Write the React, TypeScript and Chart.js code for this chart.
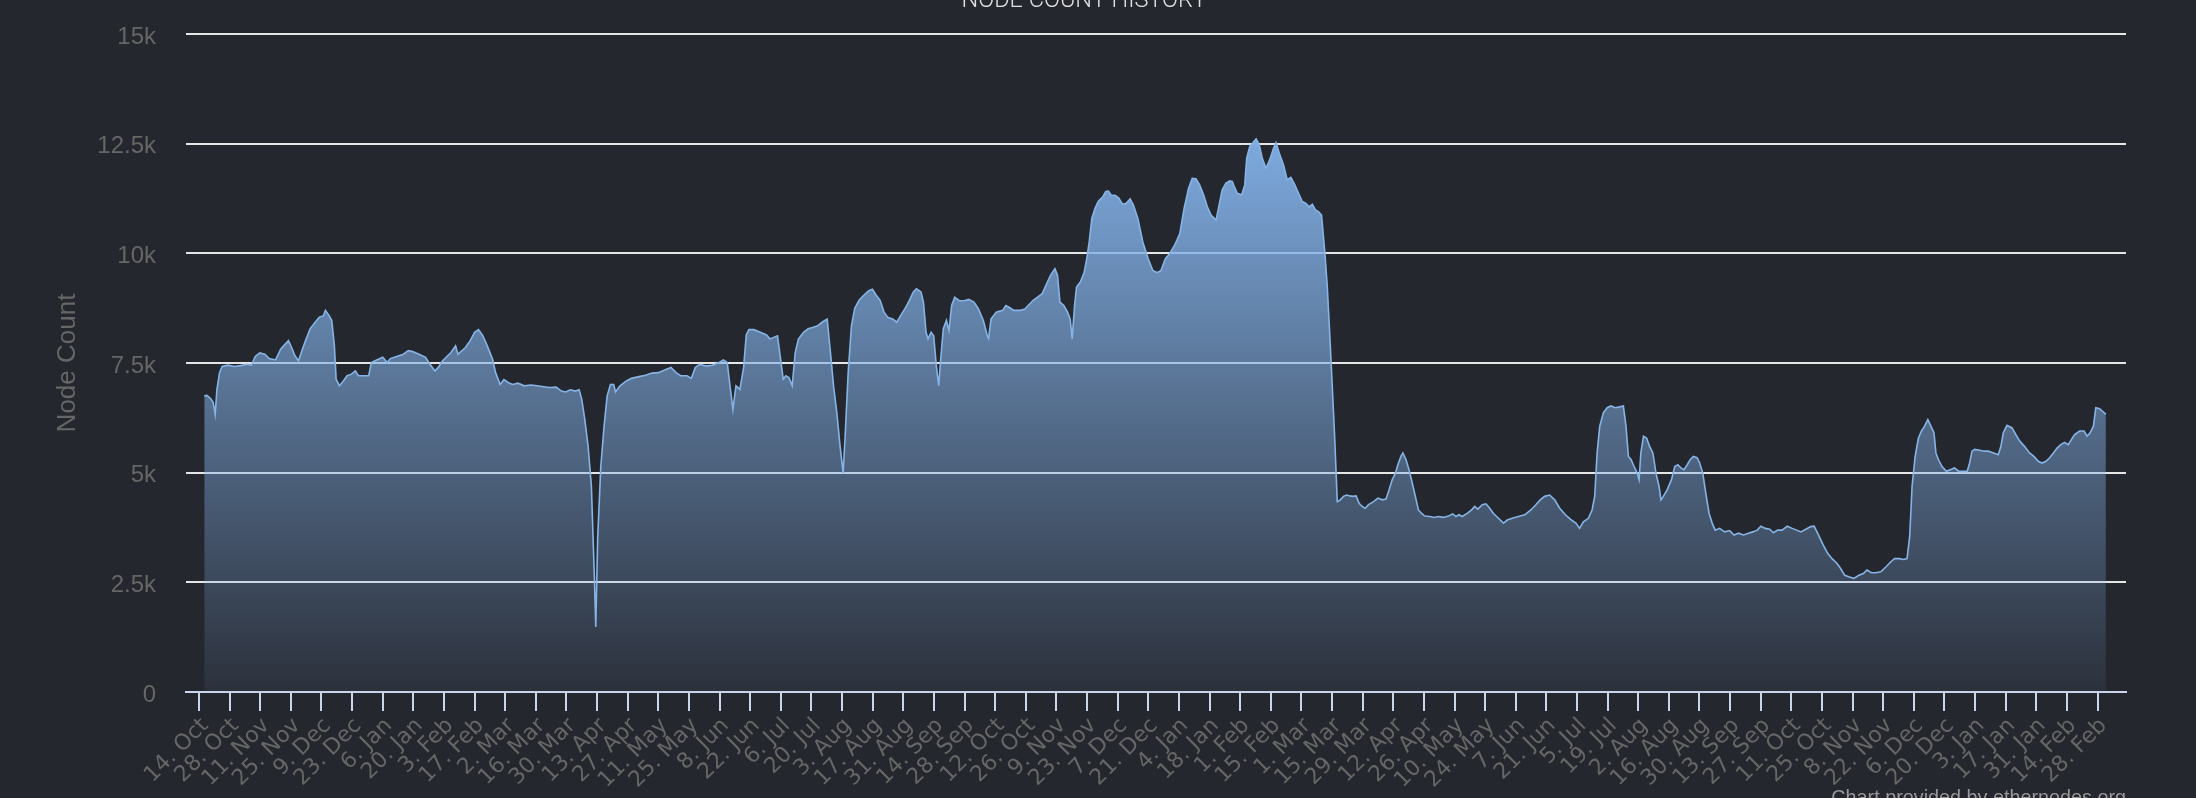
import React, { useEffect, useRef } from "react";
import { Chart, registerables } from "chart.js";

Chart.register(...registerables);

// ---- data -------------------------------------------------------------
// x values are days since 14 Oct 2019 (day 0); y values are node counts.
const START_DATE_UTC = Date.UTC(2019, 9, 14);
const MONTHS = ["Jan", "Feb", "Mar", "Apr", "May", "Jun", "Jul", "Aug", "Sep", "Oct", "Nov", "Dec"];
const TICK_STEP_DAYS = 14;
const TICK_COUNT = 63;
const X_MIN_DAY = -5.94;
const X_MAX_DAY = 881;
const Y_MAX = 15000;
const Y_STEP = 2500;
const TITLE = "NODE COUNT HISTORY";
const Y_TITLE = "Node Count";
const CREDITS = "Chart provided by ethernodes.org";

// Oct 2019 - Jun 2020
const daysA = [
  2.4, 3.6, 5.3, 6.5, 7.4, 8.2, 9.4, 10.6, 13.2, 16.1,
  19.0, 21.9, 24.0, 25.7, 27.8, 30.1, 32.1, 35.0, 37.4, 39.4,
  40.9, 42.3, 43.8, 45.5, 47.3, 49.0, 50.8, 53.1, 54.9, 56.9,
  57.8, 59.5, 60.7, 61.9, 62.7, 64.2, 66.0, 67.7, 69.5, 71.5,
  72.9, 75.9, 77.6, 78.8, 80.5, 82.3, 84.0, 86.1, 87.5, 90.4,
  93.4, 95.7, 97.7, 100.6, 103.6, 105.6, 107.9, 109.4, 111.4, 113.8,
  115.2, 117.3, 118.4, 120.2, 121.9, 124.0, 126.0, 127.8, 129.8, 131.8,
  134.2, 135.6, 137.7, 139.4, 141.5, 143.5, 145.8, 148.7, 151.7, 154.6,
  157.5, 160.4, 163.3, 165.7, 167.7, 169.7, 172.1, 173.8, 175.0, 176.4,
  177.9, 179.4, 180.8, 181.4, 182.3, 183.7, 185.2, 186.6, 188.1, 189.6,
  190.4, 192.5, 195.4, 197.7, 201.2, 204.1, 207.1, 210.0, 212.9, 215.8,
  218.1, 220.2, 223.1, 225.1, 226.9, 228.9, 231.8, 234.7, 237.7, 239.7,
  241.5, 242.6, 244.1, 245.5, 247.3, 249.0,
];
const countsA = [
  6750, 6760, 6690, 6600, 6330, 6900, 7280, 7420, 7450, 7420,
  7440, 7470, 7450, 7650, 7730, 7700, 7600, 7570, 7820, 7930,
  8010, 7860, 7670, 7550, 7820, 8050, 8280, 8430, 8540, 8580,
  8700, 8580, 8470, 7890, 7130, 6980, 7090, 7210, 7240, 7320,
  7210, 7210, 7210, 7510, 7550, 7590, 7630, 7510, 7600, 7650,
  7700, 7780, 7760, 7700, 7630, 7470, 7320, 7400, 7550, 7670,
  7740, 7890, 7700, 7780, 7860, 8010, 8200, 8260, 8120, 7890,
  7590, 7280, 7010, 7120, 7050, 7010, 7040, 6980, 7000, 6980,
  6960, 6940, 6950, 6860, 6840, 6890, 6860, 6890, 6670, 6210,
  5600, 4690, 2550, 1480, 3540, 5140, 6060, 6750, 7010, 7010,
  6840, 6980, 7090, 7150, 7190, 7220, 7270, 7280, 7340, 7400,
  7280, 7210, 7210, 7150, 7400, 7470, 7430, 7450, 7510, 7570,
  7510, 7050, 6440, 6980, 6900, 7400,
];

// Jun 2020 - Mar 2021
const daysB = [
  250.2, 251.4, 253.7, 256.6, 259.5, 261.0, 263.0, 264.5, 265.9, 267.1,
  268.3, 269.7, 271.2, 272.6, 274.1, 276.4, 278.5, 280.5, 282.9, 285.2,
  287.2, 288.7, 290.1, 291.6, 293.1, 294.5, 295.4, 296.8, 298.3, 299.8,
  301.8, 303.8, 306.2, 307.9, 309.7, 311.4, 313.2, 314.9, 317.3, 319.0,
  320.8, 323.1, 325.1, 326.6, 328.0, 330.1, 331.2, 332.4, 333.3, 334.7,
  335.9, 337.1, 338.2, 339.1, 340.3, 341.7, 342.9, 344.1, 345.5, 347.6,
  349.9, 351.9, 354.3, 356.3, 358.6, 360.4, 361.0, 362.1, 364.5, 367.4,
  368.9, 370.3, 372.6, 375.6, 377.6, 379.1, 381.4, 383.4, 385.5, 387.2,
  389.3, 391.3, 392.5, 393.6, 395.4, 397.1, 398.3, 399.2, 400.3, 401.2,
  403.0, 404.7, 405.9, 407.0, 408.2, 409.7, 411.1, 413.2, 414.6, 415.8,
  417.0, 419.0, 420.5, 422.2, 423.9, 425.7, 427.2, 429.2, 431.5, 433.9,
  436.1, 438.1, 439.8, 441.8, 443.8, 446.1, 448.4, 450.4, 452.4, 454.1,
  455.8, 457.5, 459.3, 461.0, 462.7, 465.0, 466.1, 467.8, 469.5, 471.3,
  472.4, 473.3, 474.7, 476.7, 478.1, 479.0, 480.4, 481.8, 483.3, 484.7,
  486.1, 487.8, 489.5, 491.3, 492.4, 494.1, 495.8, 497.5, 499.2, 501.0,
  502.7, 504.4, 506.1, 507.5, 509.0, 510.4, 511.8, 513.2, 514.7, 515.8,
  517.0, 518.1, 519.2,
];
const countsB = [
  8140, 8260, 8260, 8200, 8140, 8050, 8090, 8120, 7590, 7130,
  7210, 7170, 6980, 7740, 8050, 8200, 8280, 8310, 8350, 8440,
  8500, 7740, 6980, 6370, 5600, 4990, 5830, 7280, 8350, 8750,
  8930, 9040, 9150, 9180, 9040, 8930, 8660, 8540, 8500, 8430,
  8580, 8770, 8960, 9120, 9190, 9120, 8890, 8200, 8050, 8200,
  8120, 7430, 6980, 7590, 8280, 8470, 8240, 8810, 9000, 8920,
  8920, 8950, 8890, 8740, 8470, 8120, 8060, 8500, 8660, 8700,
  8810, 8770, 8700, 8700, 8730, 8810, 8930, 9000, 9080, 9270,
  9500, 9650, 9500, 8890, 8810, 8660, 8500, 8050, 8810, 9230,
  9350, 9570, 9880, 10260, 10800, 11030, 11180, 11290, 11410, 11420,
  11330, 11320, 11260, 11120, 11140, 11240, 11100, 10800, 10260, 9880,
  9610, 9560, 9610, 9880, 9990, 10190, 10450, 11030, 11480, 11710,
  11700, 11560, 11330, 11060, 10870, 10760, 11030, 11450, 11600, 11650,
  11640, 11520, 11370, 11330, 11560, 12170, 12440, 12520, 12610, 12480,
  12170, 11940, 12130, 12400, 12520, 12250, 12020, 11680, 11730, 11560,
  11370, 11180, 11140, 11060, 11120, 10990, 10950, 10870, 10030, 9270,
  8120, 6980, 5830,
];

// Mar 2021 - Mar 2022
const daysC = [
  520.4, 521.8, 523.2, 524.7, 526.1, 527.5, 529.0, 530.4, 531.8, 533.2,
  534.7, 537.0, 539.0, 541.0, 542.7, 544.1, 545.5, 547.0, 548.1, 549.5,
  550.4, 551.8, 553.2, 554.7, 556.1, 557.5, 559.0, 560.4, 562.7, 564.7,
  566.7, 569.0, 571.2, 573.2, 574.7, 576.1, 577.5, 579.8, 581.8, 583.2,
  584.7, 586.7, 588.4, 590.1, 591.8, 594.1, 596.4, 598.1, 600.4, 603.2,
  606.1, 608.9, 611.2, 613.2, 615.2, 617.5, 619.8, 622.1, 624.7, 627.5,
  629.5, 631.2, 632.9, 635.2, 636.9, 638.1, 639.2, 640.4, 642.1, 643.8,
  645.5, 647.5, 649.5, 651.2, 652.4, 653.5, 654.7, 656.1, 657.5, 658.4,
  659.2, 660.4, 661.8, 663.2, 664.7, 666.1, 667.5, 668.4, 669.5, 671.2,
  673.2, 674.7, 676.1, 677.5, 678.9, 680.4, 681.8, 683.2, 684.9, 686.1,
  687.5, 688.9, 690.4, 691.8, 693.2, 695.2, 697.5, 699.8, 701.8, 703.8,
  706.1, 708.4, 710.4, 712.4, 714.1, 716.1, 718.1, 719.8, 721.8, 723.8,
  726.1, 728.4, 730.4, 732.4, 734.6, 736.9, 738.4, 740.4, 742.6, 744.6,
  746.6, 748.9, 750.6, 752.4, 754.6, 756.6, 758.9, 760.9, 762.6, 764.6,
  766.6, 768.9, 771.2, 773.5, 775.2, 777.5, 779.2, 780.9, 782.1, 783.2,
  784.6, 786.1, 787.5, 788.9, 790.4, 791.8, 793.2, 794.1, 795.2, 796.9,
  798.9, 800.9, 802.6, 804.6, 806.6, 808.4, 809.5, 810.6, 811.8, 814.1,
  816.1, 818.1, 820.4, 822.6, 823.8, 824.9, 826.6, 828.9, 830.6, 832.4,
  834.6, 836.9, 838.9, 840.9, 842.6, 844.4, 846.1, 847.8, 849.5, 851.2,
  852.9, 854.6, 856.1, 857.5, 859.8, 861.8, 863.2, 864.6, 866.1, 867.2,
  868.9, 870.3, 871.8,
];
const countsC = [
  4340, 4380, 4460, 4490, 4470, 4460, 4470, 4300, 4230, 4190,
  4270, 4340, 4420, 4380, 4400, 4610, 4840, 4990, 5180, 5370,
  5450, 5300, 5070, 4760, 4460, 4150, 4070, 4010, 4000, 3980,
  4000, 3980, 4010, 4060, 4000, 4040, 4000, 4070, 4150, 4230,
  4170, 4270, 4290, 4190, 4070, 3960, 3850, 3920, 3960, 4000,
  4040, 4150, 4270, 4380, 4460, 4490, 4380, 4190, 4040, 3920,
  3850, 3730, 3880, 3960, 4150, 4460, 5450, 6060, 6370, 6480,
  6520, 6480, 6500, 6520, 6060, 5370, 5300, 5140, 4990, 4840,
  5450, 5830, 5790, 5600, 5450, 4990, 4690, 4380, 4460, 4610,
  4840, 5140, 5180, 5110, 5070, 5180, 5300, 5370, 5340, 5220,
  4990, 4530, 4070, 3850, 3690, 3730, 3650, 3680, 3580, 3620,
  3580, 3620, 3650, 3690, 3780, 3730, 3710, 3630, 3690, 3690,
  3780, 3730, 3690, 3650, 3710, 3770, 3780, 3580, 3350, 3160,
  3040, 2930, 2810, 2660, 2620, 2590, 2660, 2700, 2780, 2720,
  2720, 2740, 2850, 2970, 3040, 3040, 3020, 3040, 3540, 4690,
  5370, 5790, 5950, 6060, 6210, 6060, 5910, 5450, 5300, 5140,
  5030, 5070, 5110, 5030, 5030, 5030, 5220, 5490, 5530, 5510,
  5490, 5490, 5450, 5410, 5600, 5910, 6080, 6020, 5870, 5720,
  5600, 5450, 5370, 5260, 5220, 5260, 5340, 5450, 5560, 5640,
  5690, 5640, 5760, 5870, 5950, 5950, 5830, 5910, 6060, 6480,
  6460, 6400, 6330,
];

// ---- styling ----------------------------------------------------------
const BG = "#25272e";
const LABEL_COLOR = "#666666";
const GRID_COLOR = "#e6e6e6";
const AXIS_COLOR = "#ccd6eb";
const LINE_COLOR = "#86b4e6";
const FONT = "'Liberation Sans', Arial, sans-serif";
const X_FONT = "'DejaVu Sans', Verdana, sans-serif";

function dayLabel(day: number): string {
  const d = new Date(START_DATE_UTC + Math.round(day) * 86400000);
  return `${d.getUTCDate()}. ${MONTHS[d.getUTCMonth()]}`;
}

export default function App() {
  const ref = useRef<HTMLCanvasElement | null>(null);

  useEffect(() => {
    document.body.style.margin = "0";
    document.body.style.background = BG;
    const canvas = ref.current;
    if (!canvas) return;

    const days = [...daysA, ...daysB, ...daysC];
    const counts = [...countsA, ...countsB, ...countsC];
    const points = days.map((d, i) => ({ x: d, y: counts[i] }));
    const maxCount = Math.max(...counts);

    const overlay = {
      id: "overlay",
      beforeDraw(chart: any) {
        const { ctx, width, height } = chart;
        ctx.save();
        ctx.fillStyle = BG;
        ctx.fillRect(0, 0, width, height);
        ctx.restore();
      },
      afterDraw(chart: any) {
        const { ctx, chartArea, width, height } = chart;
        ctx.save();
        // title (mostly above the visible area)
        ctx.fillStyle = "#e0e0e3";
        ctx.textAlign = "center";
        ctx.textBaseline = "alphabetic";
        ctx.font = `300 24px Roboto, 'Liberation Sans', sans-serif`;
        const w = ctx.measureText(TITLE).width;
        const size = (24 * 245) / w;
        ctx.font = `300 ${size}px Roboto, 'Liberation Sans', sans-serif`;
        ctx.fillText(TITLE, width / 2 - 14, 7);
        // credits
        ctx.fillStyle = "#999999";
        ctx.textAlign = "right";
        ctx.font = `19.8px ${FONT}`;
        ctx.fillText(CREDITS, chartArea.right, height + 6);
        ctx.restore();
      },
    };

    const chart = new Chart(canvas, {
      type: "line",
      data: {
        datasets: [
          {
            label: Y_TITLE,
            data: points,
            borderColor: LINE_COLOR,
            borderWidth: 1.6,
            pointRadius: 0,
            tension: 0,
            fill: "origin",
            backgroundColor: (c: any) => {
              const { chart: ch } = c;
              const area = ch.chartArea;
              if (!area) return "rgba(124,170,225,0.5)";
              const ys = ch.scales.y;
              const top = ys.getPixelForValue(maxCount);
              const bottom = ys.getPixelForValue(0);
              const g = ch.ctx.createLinearGradient(0, top, 0, bottom);
              g.addColorStop(0, "rgba(128,174,228,0.97)");
              g.addColorStop(1, "rgba(128,174,228,0.07)");
              return g;
            },
          },
        ],
      },
      options: {
        responsive: false,
        devicePixelRatio: 1,
        animation: false,
        parsing: true,
        layout: { padding: { left: 0, right: 70, top: 34, bottom: 0 } },
        plugins: {
          legend: { display: false },
          tooltip: { enabled: false },
          title: { display: false },
        },
        scales: {
          x: {
            type: "linear",
            position: "bottom",
            min: X_MIN_DAY,
            max: X_MAX_DAY,
            afterBuildTicks: (s: any) => {
              s.ticks = Array.from({ length: TICK_COUNT }, (_, i) => ({ value: i * TICK_STEP_DAYS }));
            },
            afterFit: (s: any) => {
              s.height = 106;
              s.paddingLeft = 0;
              s.paddingRight = 0;
            },
            ticks: {
              autoSkip: false,
              maxRotation: 45,
              minRotation: 45,
              padding: 2,
              labelOffset: 6,
              color: LABEL_COLOR,
              font: { family: X_FONT, size: 22 },
              callback: (v: any) => dayLabel(Number(v)),
            },
            grid: {
              drawOnChartArea: false,
              drawTicks: true,
              tickLength: 19,
              tickWidth: 2,
              color: AXIS_COLOR,
              lineWidth: 2,
            },
            border: { display: true, color: AXIS_COLOR, width: 2 },
          },
          y: {
            position: "left",
            min: 0,
            max: Y_MAX,
            afterFit: (s: any) => {
              s.width = 186;
              s.paddingTop = 0;
              s.paddingBottom = 0;
            },
            ticks: {
              stepSize: Y_STEP,
              padding: 30,
              labelOffset: 3,
              color: LABEL_COLOR,
              font: { family: FONT, size: 24 },
              callback: (v: any) => (Number(v) === 0 ? "0" : `${Number(v) / 1000}k`),
            },
            grid: {
              drawTicks: false,
              lineWidth: 2,
              color: (c: any) => (c.tick && c.tick.value === 0 ? "rgba(0,0,0,0)" : GRID_COLOR),
            },
            border: { display: false },
            title: {
              display: true,
              text: Y_TITLE,
              color: LABEL_COLOR,
              font: { family: FONT, size: 26 },
              padding: { top: 52, bottom: 0 },
            },
          },
        },
      },
      plugins: [overlay],
    } as any);

    return () => chart.destroy();
  }, []);

  return (
    <div style={{ position: "absolute", left: 0, top: 0, width: 2196, height: 798 }}>
      <canvas ref={ref} width={2196} height={798} style={{ display: "block", width: 2196, height: 798 }} />
    </div>
  );
}
